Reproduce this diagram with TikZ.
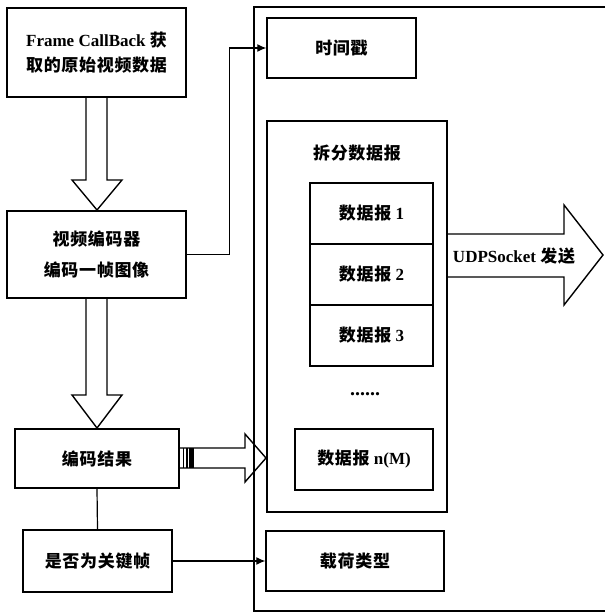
\documentclass[tikz,border=0pt]{standalone}
\usepackage{fontspec}
\setmainfont{Liberation Serif}
\newfontfamily\cjk[LetterSpace=4]{Noto Sans CJK SC}
\usetikzlibrary{arrows.meta}
\newcommand{\zh}[1]{{\cjk\bfseries #1}}
\begin{document}
\begin{tikzpicture}[x=1pt,y=-1pt,
  box/.style={draw,line width=1.4pt,inner sep=0pt,align=center,
    font=\fontsize{17}{20}\selectfont\bfseries},
  txt/.style={inner sep=0pt,font=\fontsize{17}{20}\selectfont\bfseries},
  conn/.style={line width=1.2pt},
  hollow/.style={draw,line width=1.4pt,fill=white,line join=miter},
  tip/.style={-{Latex[length=9pt,width=8pt]}}]
\useasboundingbox (0,0) rectangle (605,613);
% left column
\node[box,minimum width=179pt,minimum height=89pt] (b1) at (96.5,52.5)
  {Frame CallBack \zh{获}\\[5pt]\zh{取的原始视频数据}};
\node[box,minimum width=179pt,minimum height=87pt] (b2) at (96.5,254.5)
  {\zh{视频编码器}\\[11pt]\zh{编码一帧图像}};
\node[box,minimum width=164pt,minimum height=59pt] (b3) at (97,458.5) {\zh{编码结果}};
\node[box,minimum width=149pt,minimum height=62pt] (b4) at (97.5,561) {\zh{是否为关键帧}};
% hollow down arrows
\path[hollow] (86,98) -- (86,180) -- (72,180) -- (97,210) -- (122,180) -- (107,180) -- (107,98);
\path[hollow] (86,299) -- (86,395) -- (72,395) -- (97,428) -- (122,395) -- (107,395) -- (107,299);
% striped arrow
\path[hollow] (180,448) -- (245,448) -- (245,434) -- (266,458) -- (245,482) -- (245,468) -- (180,468);
\draw[line width=1.2pt] (183.5,448) -- (183.5,468);
\draw[line width=1.2pt] (187,448) -- (187,468);
\fill (189,448) rectangle (193.5,468);
% right side
\node[box,minimum width=149pt,minimum height=60pt] (ts) at (341.5,48) {\zh{时间戳}};
\node[box,minimum width=180pt,minimum height=391pt] (split) at (357,316.5) {};
\node[txt] (splitlbl) at (357,153) {\zh{拆分数据报}};
\node[box,minimum width=123pt,minimum height=61pt] (d1) at (371.5,213.5) {\zh{数据报} 1};
\node[box,minimum width=123pt,minimum height=61pt] (d2) at (371.5,274.5) {\zh{数据报} 2};
\node[box,minimum width=123pt,minimum height=61pt] (d3) at (371.5,335.5) {\zh{数据报} 3};
\node[txt,font=\fontsize{20}{20}\selectfont\bfseries] (dots) at (365,394) {......};
\node[box,minimum width=138pt,minimum height=61pt] (dn) at (364,459.5) {\zh{数据报} n(M)};
\node[box,minimum width=178pt,minimum height=60pt] (pl) at (355,561) {\zh{载荷类型}};
% UDP arrow
\draw[line width=1.4pt,line join=miter] (447,234) -- (564,234) -- (564,205) -- (603,255) -- (564,305) -- (564,277) -- (447,277);
\node[txt] (udp) at (514,256) {UDPSocket \zh{发送}};
% frame
\draw[line width=1.4pt] (605,7) -- (254,7) -- (254,611) -- (605,611);
% connectors
\draw[conn,tip] (b2.east) -- ++(43,0) |- (ts.west);
\draw[conn] (b3.south) -- (b4.north);
\draw[conn,tip] (b4.east) -- (pl.west);
\end{tikzpicture}
\end{document}
